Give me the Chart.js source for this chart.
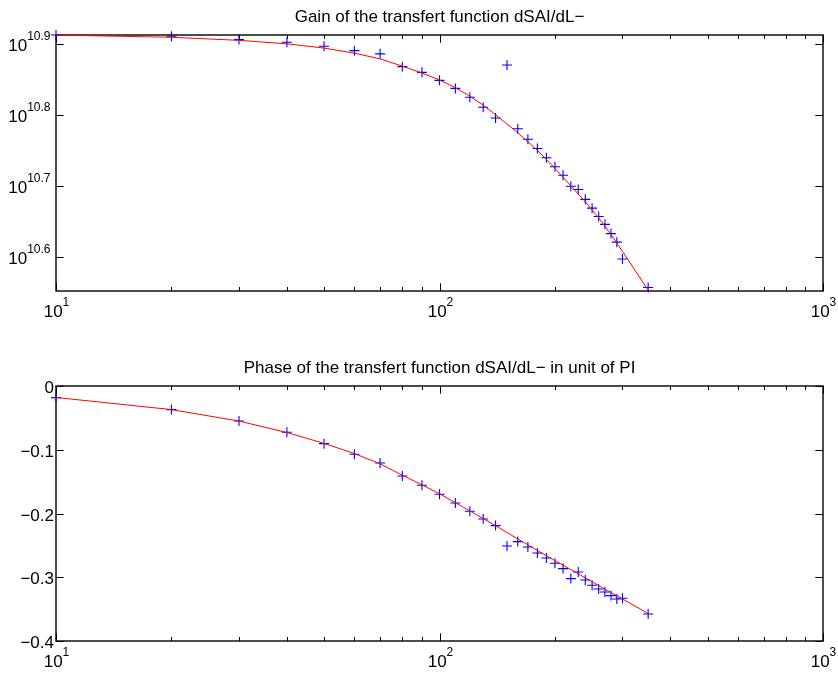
<!DOCTYPE html>
<html>
<head>
<meta charset="utf-8">
<title>Transfert function dSAI/dL-</title>
<script src="https://cdn.jsdelivr.net/npm/chart.js@4.4.1/dist/chart.umd.min.js"></script>
<style>
    html, body { margin: 0; padding: 0; background: #fff; }
    #wrap { position: relative; width: 838px; height: 675px; }
    #wrap canvas { position: absolute; left: 0; }
    #gain-chart { top: 0; }
    #phase-chart { top: 337px; }
</style>
</head>
<body>
<div id="wrap">
    <canvas id="gain-chart" width="838" height="337"></canvas>
    <canvas id="phase-chart" width="838" height="338"></canvas>
</div>
<script>
// Frequencies of the measured points
const freqs = [10, 20, 30, 40, 50, 60, 70, 80, 90, 100, 110, 120, 130, 140, 150,
               160, 170, 180, 190, 200, 210, 220, 230, 240, 250, 260, 270, 280, 290, 300, 350];

// Measured gain, kept as log10(gain)
const gainLog = [10.912, 10.9103, 10.9056, 10.9018, 10.8962, 10.8901, 10.8856, 10.8676, 10.8596, 10.8483,
                 10.8370, 10.8246, 10.8106, 10.7954, 10.8700, 10.7803, 10.7655, 10.7525, 10.7394, 10.7268,
                 10.7148, 10.6993, 10.6948, 10.6810, 10.6686, 10.6568, 10.6458, 10.6328, 10.6208, 10.5972, 10.5570];

// Measured phase, in unit of PI
const phase = [-0.0182, -0.037, -0.0549, -0.0726, -0.0904, -0.1071, -0.1208, -0.1412, -0.1558, -0.1699,
               -0.1835, -0.1965, -0.2086, -0.219, -0.251, -0.2441, -0.2525, -0.262, -0.2698, -0.2781,
               -0.2864, -0.3021, -0.2918, -0.3043, -0.3126, -0.3184, -0.3231, -0.3288, -0.3341, -0.333, -0.3576];

// Fitted model (red curve), sampled at these frequencies
const fitFreqs = [10, 20, 30, 40, 50, 60, 70, 80, 90, 100, 110, 120, 130, 140,
                  160, 180, 200, 220, 240, 260, 280, 300, 350];
const fitGainLog = [10.912, 10.9089, 10.9046, 10.8997, 10.8937, 10.8866, 10.8785, 10.8683, 10.8587, 10.8489,
                    10.8380, 10.8261, 10.8134, 10.8000, 10.7746, 10.7500, 10.7246, 10.7000, 10.6775, 10.6549,
                    10.6317, 10.6077, 10.5535];
const fitPhase = [-0.018, -0.037, -0.055, -0.073, -0.090, -0.106, -0.122, -0.140, -0.155, -0.169,
                  -0.183, -0.196, -0.208, -0.219, -0.240, -0.258, -0.274, -0.288, -0.301, -0.313,
                  -0.324, -0.334, -0.357];

// Axes limits and ticks
const freqRange = [10, 1000];
const freqMajor = [10, 100, 1000];
const freqMinor = [20, 30, 40, 50, 60, 70, 80, 90, 200, 300, 400, 500, 600, 700, 800, 900];
const gainRangeLog = [10.5521, 10.9121];
const gainTicksLog = [10.6, 10.7, 10.8, 10.9];
const phaseRange = [-0.4, 0];
const phaseTicks = [0, -0.1, -0.2, -0.3, -0.4];

const FONT = '"Liberation Sans", Arial, Helvetica, sans-serif';
const BASE_FONT = '17px ' + FONT;
const EXP_FONT = '12px ' + FONT;
const MAJOR_LEN = 7.7;
const MINOR_LEN = 4;

Chart.defaults.font.family = FONT;

// "10" with a raised exponent, y is the baseline of the "10"
function drawPower(ctx, exp, x, y, align) {
    ctx.font = BASE_FONT;
    const wb = ctx.measureText('10').width;
    ctx.font = EXP_FONT;
    const we = ctx.measureText(exp).width;
    const x0 = align === 'right' ? x - wb - we : x - (wb + we) / 2;
    ctx.textAlign = 'left';
    ctx.textBaseline = 'alphabetic';
    ctx.font = BASE_FONT;
    ctx.fillText('10', x0, y);
    ctx.font = EXP_FONT;
    ctx.fillText(exp, x0 + wb, y - 11);
}

function seg(ctx, x1, y1, x2, y2) {
    ctx.beginPath();
    ctx.moveTo(x1, y1);
    ctx.lineTo(x2, y2);
    ctx.stroke();
}

// Box, inward ticks on all four sides, tick labels and title
const boxAxes = {
    id: 'boxAxes',
    beforeDatasetsDraw(chart, args, opts) {
        const ctx = chart.ctx;
        const a = chart.chartArea;
        const xs = chart.scales.x;
        const ys = chart.scales.y;
        ctx.save();
        ctx.strokeStyle = '#000';
        ctx.fillStyle = '#000';
        ctx.lineWidth = 1;

        freqMinor.forEach(function(v) {
            const px = Math.round(xs.getPixelForValue(v)) + 0.5;
            seg(ctx, px, a.bottom, px, a.bottom - MINOR_LEN);
            seg(ctx, px, a.top, px, a.top + MINOR_LEN);
        });
        freqMajor.forEach(function(v) {
            const px = Math.round(xs.getPixelForValue(v)) + 0.5;
            seg(ctx, px, a.bottom, px, a.bottom - MAJOR_LEN);
            seg(ctx, px, a.top, px, a.top + MAJOR_LEN);
            drawPower(ctx, String(Math.round(Math.log10(v))), px, a.bottom + 26, 'center');
        });

        opts.yTicks.forEach(function(t) {
            const py = Math.round(ys.getPixelForValue(t.value)) + 0.5;
            seg(ctx, a.left, py, a.left + MAJOR_LEN, py);
            seg(ctx, a.right, py, a.right - MAJOR_LEN, py);
            if (t.exp) {
                drawPower(ctx, t.exp, a.left - 5.5, py + 6, 'right');
            } else {
                ctx.font = BASE_FONT;
                ctx.textAlign = 'right';
                ctx.textBaseline = 'alphabetic';
                ctx.fillText(t.text, a.left - 2, py + 6);
            }
        });

        ctx.lineWidth = 1.4;
        ctx.strokeRect(a.left, a.top, a.right - a.left, a.bottom - a.top);

        ctx.font = BASE_FONT;
        ctx.textAlign = 'center';
        ctx.textBaseline = 'alphabetic';
        ctx.fillText(opts.title, (a.left + a.right) / 2, a.top - 13);
        ctx.restore();
    }
};

function makeChart(id, fitY, dataY, yScale, padding, axesOpts) {
    return new Chart(document.getElementById(id), {
        type: 'scatter',
        data: {
            datasets: [{
                label: 'fit',
                data: fitFreqs.map(function(f, i) { return {x: f, y: fitY[i]}; }),
                showLine: true,
                borderColor: '#ff0000',
                borderWidth: 1,
                pointRadius: 0,
                fill: false,
                clip: false
            }, {
                label: 'measured',
                data: freqs.map(function(f, i) { return {x: f, y: dataY[i]}; }),
                showLine: false,
                pointStyle: 'cross',
                pointRadius: 5,
                pointBorderColor: '#0000ff',
                pointBorderWidth: 1.1,
                clip: false
            }]
        },
        options: {
            responsive: false,
            animation: false,
            devicePixelRatio: 1,
            events: [],
            layout: { padding: padding },
            plugins: {
                legend: { display: false },
                tooltip: { enabled: false },
                boxAxes: axesOpts
            },
            scales: {
                x: { type: 'logarithmic', min: freqRange[0], max: freqRange[1], display: false },
                y: yScale
            }
        },
        plugins: [boxAxes]
    });
}

const gainY = gainLog.map(function(v) { return Math.pow(10, v); });
const fitGainY = fitGainLog.map(function(v) { return Math.pow(10, v); });

makeChart('gain-chart', fitGainY, gainY, {
    type: 'logarithmic',
    min: Math.pow(10, gainRangeLog[0]),
    max: Math.pow(10, gainRangeLog[1]),
    display: false
}, { left: 56, right: 15, top: 35, bottom: 46 }, {
    title: 'Gain of the transfert function dSAI/dL\u2212',
    yTicks: gainTicksLog.map(function(e) { return { value: Math.pow(10, e), exp: e.toFixed(1) }; })
});

makeChart('phase-chart', fitPhase, phase, {
    type: 'linear',
    min: phaseRange[0],
    max: phaseRange[1],
    display: false
}, { left: 56, right: 15, top: 49, bottom: 34 }, {
    title: 'Phase of the transfert function dSAI/dL\u2212 in unit of PI',
    yTicks: phaseTicks.map(function(v) {
        return { value: v, text: v === 0 ? '0' : '\u2212' + Math.abs(v).toFixed(1) };
    })
});
</script>
</body>
</html>
